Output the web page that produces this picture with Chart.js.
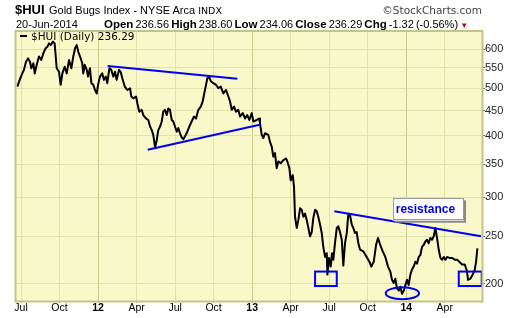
<!DOCTYPE html>
<html>
<head>
<meta charset="utf-8">
<script src="https://cdn.jsdelivr.net/npm/chart.js@4.4.1/dist/chart.umd.min.js"></script>
<style>
  body { margin: 0; background: #fff; }
  #wrap { position: relative; width: 520px; height: 318px; font-family: "Liberation Sans", Arial, sans-serif; color: #000; }
  #hui { position: absolute; left: 0; top: 0; }
  .t { position: absolute; white-space: nowrap; line-height: 1; }
  .b { font-weight: bold; }
  .dv { font-family: "DejaVu Sans", Verdana, sans-serif; }
  #quote { font-size: 11px; word-spacing: -1px; }
  #quote .b { font-size: 11.5px; }
</style>
</head>
<body>
<div id="wrap">
  <canvas id="hui" width="520" height="318"></canvas>
  <div class="t b" style="left:15px; top:3px; font-size:13px;">$HUI</div>
  <div class="t" style="left:49px; top:5px; font-size:11px;">Gold Bugs Index - NYSE Arca <span class="dv" style="font-size:9.5px;">INDX</span></div>
  <div class="t dv" style="right:38px; top:5px; font-size:10.5px; color:#444;">©StockCharts.com</div>
  <div class="t" style="left:16px; top:19px; font-size:11px;">20-Jun-2014</div>
  <div class="t" id="quote" style="left:104px; top:19px;"><span class="b">Open</span> 236.56 <span class="b">High</span> 238.60 <span class="b">Low</span> 234.06 <span class="b">Close</span> 236.29 <span class="b">Chg</span> -1.32 (-0.56%) <span style="color:#c00; font-size:8px;">&#9660;</span></div>
  <div class="t" style="left:20px; top:35px; width:7px; height:2px; background:#000;"></div>
  <div class="t dv" style="left:31px; top:31px; font-size:10.5px;">$HUI (Daily) 236.29</div>
</div>
<script>
// x values are months counted from Jul 2011
const tickMonths = [0, 3, 6, 9, 12, 15, 18, 21, 24, 27, 30, 33];
const tickLabels = ["Jul", "Oct", "12", "Apr", "Jul", "Oct", "13", "Apr", "Jul", "Oct", "14", "Apr"];
const yearMonths = [6, 18, 30];
const priceTicks = [200, 250, 300, 350, 400, 450, 500, 550, 600];

const months = [
  -0.29, -0.08, 0.10, 0.23, 0.39, 0.55, 0.70, 0.80, 0.96, 1.07, 1.22, 1.40, 1.58, 1.74, 1.92, 2.05,
  2.18, 2.31, 2.49, 2.62, 2.78, 2.96, 3.09, 3.22, 3.40, 3.56, 3.74, 3.92, 4.07, 4.21, 4.34, 4.46,
  4.60, 4.77, 4.85, 4.96, 5.12, 5.22, 5.37, 5.48, 5.63, 5.76, 5.90, 6.00, 6.15, 6.33, 6.46, 6.60,
  6.72, 6.88, 7.03, 7.19, 7.32, 7.45, 7.63, 7.76, 7.89, 8.08, 8.28, 8.49, 8.59, 8.75,
  8.96, 9.06, 9.21, 9.40, 9.52, 9.74, 9.91, 10.05, 10.18, 10.30, 10.44, 10.57, 10.69, 10.83, 10.96,
  11.08, 11.21, 11.35, 11.47, 11.60, 11.74, 11.86, 11.99, 12.13, 12.25, 12.38, 12.52, 12.64, 12.77,
  12.95, 13.11, 13.29, 13.47, 13.63, 13.81, 14.00, 14.15, 14.25, 14.41, 14.51, 14.67, 14.80, 14.98,
  15.19, 15.37, 15.55, 15.76, 15.97, 16.15, 16.28, 16.41, 16.59, 16.74, 16.92, 17.06, 17.27, 17.45,
  17.62, 17.78, 17.97, 18.09, 18.36, 18.56,
  18.61, 18.75, 18.87, 19.00, 19.26, 19.39, 19.53, 19.65, 19.78, 19.91, 20.04, 20.23, 20.43, 20.64,
  20.74, 20.90, 21.00, 21.16, 21.26, 21.34, 21.47, 21.60, 21.73, 21.86, 21.99, 22.12, 22.25, 22.38,
  22.51, 22.64, 22.76, 22.90, 23.03, 23.15, 23.29, 23.42, 23.54, 23.68, 23.81, 23.86, 23.99, 24.12,
  24.22, 24.32, 24.45, 24.59, 24.71, 24.84, 24.98, 25.10, 25.23, 25.37, 25.49, 25.62, 25.76, 25.88,
  26.01, 26.14, 26.27, 26.40, 26.66, 26.92, 27.13,
  27.28, 27.47, 27.65, 27.80, 27.98, 28.17, 28.37, 28.58, 28.76, 28.89, 29.03, 29.15, 29.28, 29.42,
  29.54, 29.67, 29.81, 29.93, 30.06, 30.19, 30.32, 30.45, 30.58, 30.71, 30.84, 30.97, 31.10, 31.23,
  31.36, 31.49, 31.62, 31.75, 31.88, 32.01, 32.14, 32.27, 32.40, 32.53, 32.66, 32.79, 32.92, 33.05,
  33.18, 33.36, 33.57, 33.78, 33.96, 34.14, 34.35, 34.56, 34.74, 34.81, 34.99, 35.18, 35.34, 35.44, 35.54
];
const hui = [
  504, 522, 536, 545, 566, 575, 566, 549, 562, 536, 558, 580, 571, 589, 603, 607,
  617, 612, 622, 617, 549, 540, 508, 536, 553, 536, 571, 549, 580, 603, 612, 593,
  580, 562, 536, 558, 545, 528, 549, 512, 508, 496, 488, 508, 528, 536, 520, 528,
  512, 549, 545, 528, 540, 520, 545, 540, 524, 504, 496, 500, 481, 477,
  481, 466, 448, 452, 441, 434, 431, 418, 411, 402, 379, 392, 411, 418, 428,
  448, 452, 441, 455, 452, 431, 428, 418, 408, 415, 405, 397, 394, 399,
  408, 418, 428, 438, 434, 452, 459, 470, 485, 508, 524, 526, 516, 512,
  508, 500, 504, 488, 496, 481, 470, 452, 459, 448, 452, 438, 445, 434,
  441, 431, 445, 428, 431, 434,
  424, 402, 396, 405, 402, 389, 380, 363, 369, 344, 355, 352, 357, 360,
  355, 344, 325, 333, 315, 274, 260, 270, 285, 283, 274, 278, 270, 260,
  250, 255, 272, 283, 281, 274, 264, 254, 238, 227, 231, 209, 226, 217,
  231, 224, 242, 260, 262, 255, 246, 218, 242, 254, 278, 276, 264, 260,
  254, 255, 242, 235, 233, 227, 222,
  217, 222, 240, 248, 240, 233, 227, 217, 212, 204, 201, 205, 196, 194,
  197.5, 191, 194, 199, 204, 199, 209, 214, 217, 222, 220, 227, 229, 238,
  240, 244, 246, 242, 248, 246, 250, 260, 248, 235, 226, 224, 227, 224,
  227, 226, 226, 224, 224, 222, 219, 219, 212, 204, 205, 209, 214, 222, 236.29
];

// hand-drawn annotations, in [month, price]
const wedgeTop = [[6.75, 555], [16.85, 523]];
const wedgeBottom = [[9.87, 375], [18.67, 422]];
const resistanceLine = [[24.40, 281], [35.83, 250]];
// [monthFrom, monthTo, priceLow, priceHigh]
const supportBoxes = [[22.90, 24.59, 198.1, 212], [34.09, 35.88, 198.1, 212]];
const bottomOval = [28.40, 31.00, 186.2, 196.9];
const labelBox = [28.95, 34.50, 269, 298.7];
const labelText = "resistance";

const ANNOT_BLUE = "#0000f0";

function toPoints(pairs) {
  return pairs.map(p => ({ x: p[0], y: p[1] }));
}

const extras = {
  id: "extras",
  beforeDraw(chart) {
    const { ctx, chartArea: a } = chart;
    ctx.save();
    ctx.fillStyle = "#f8f8c8";
    ctx.fillRect(a.left, a.top, a.right - a.left, a.bottom - a.top);
    ctx.restore();
  },
  afterDatasetsDraw(chart) {
    const { ctx, scales: { x, y } } = chart;
    ctx.save();
    ctx.strokeStyle = ANNOT_BLUE;
    ctx.lineWidth = 2;
    supportBoxes.forEach(b => {
      const l = x.getPixelForValue(b[0]), r = x.getPixelForValue(b[1]);
      const t = y.getPixelForValue(b[3]), bt = y.getPixelForValue(b[2]);
      ctx.strokeRect(l, t, r - l, bt - t);
    });

    const ol = x.getPixelForValue(bottomOval[0]), or = x.getPixelForValue(bottomOval[1]);
    const ob = y.getPixelForValue(bottomOval[2]), ot = y.getPixelForValue(bottomOval[3]);
    ctx.beginPath();
    ctx.ellipse((ol + or) / 2, (ot + ob) / 2, (or - ol) / 2, (ob - ot) / 2, 0, 0, Math.PI * 2);
    ctx.stroke();

    // label box
    const ll = x.getPixelForValue(labelBox[0]), lr = x.getPixelForValue(labelBox[1]);
    const lt = y.getPixelForValue(labelBox[3]), lb = y.getPixelForValue(labelBox[2]);
    ctx.fillStyle = "#888";
    ctx.fillRect(ll + 2, lt + 2, lr - ll, lb - lt);
    ctx.fillStyle = "#fff";
    ctx.fillRect(ll, lt, lr - ll, lb - lt);
    ctx.strokeStyle = "#999";
    ctx.lineWidth = 1;
    ctx.strokeRect(Math.round(ll) + 0.5, Math.round(lt) + 0.5, Math.round(lr - ll) - 1, Math.round(lb - lt) - 1);
    ctx.fillStyle = ANNOT_BLUE;
    ctx.font = "bold 12px 'Liberation Sans', Arial, sans-serif";
    ctx.textBaseline = "alphabetic";
    ctx.fillText(labelText, ll + 3, lt + 15);
    ctx.restore();
  },
  afterDraw(chart) {
    const { ctx, chartArea: a } = chart;
    ctx.save();
    ctx.strokeStyle = "#c2c48c";
    ctx.lineWidth = 2;
    ctx.strokeRect(a.left - 0.5, a.top, a.right - a.left + 1, a.bottom - a.top + 0.5);
    ctx.restore();
  }
};

new Chart(document.getElementById("hui"), {
  type: "line",
  data: {
    datasets: [
      { data: toPoints(wedgeTop), borderColor: ANNOT_BLUE, borderWidth: 2, pointRadius: 0, order: 0 },
      { data: toPoints(wedgeBottom), borderColor: ANNOT_BLUE, borderWidth: 2, pointRadius: 0, order: 0 },
      { data: toPoints(resistanceLine), borderColor: ANNOT_BLUE, borderWidth: 2, pointRadius: 0, order: 0 },
      {
        label: "$HUI (Daily)",
        data: months.map((m, i) => ({ x: m, y: hui[i] })),
        borderColor: "#000",
        borderWidth: 2,
        borderJoinStyle: "round",
        pointRadius: 0,
        tension: 0,
        order: 1
      }
    ]
  },
  options: {
    responsive: false,
    animation: false,
    layout: { padding: { left: 16, top: 31, right: 0, bottom: 0 } },
    plugins: { legend: { display: false }, tooltip: { enabled: false } },
    scales: {
      x: {
        type: "linear",
        min: -0.39,
        max: 35.9,
        afterBuildTicks: s => { s.ticks = tickMonths.map(v => ({ value: v })); },
        afterFit: s => { s.height = 17; },
        border: { display: false },
        grid: {
          color: c => yearMonths.includes(c.tick && c.tick.value) ? "#c8cb90" : "#e0e2ac",
          tickColor: "#aaa",
          tickLength: 2
        },
        ticks: {
          autoSkip: false,
          maxRotation: 0,
          padding: -1,
          color: "#000",
          font: c => {
            const year = yearMonths.includes(c.tick && c.tick.value);
            return { family: "'Liberation Sans', Arial, sans-serif", size: year ? 10.5 : 10.5, weight: year ? "bold" : "normal" };
          },
          callback: v => tickLabels[tickMonths.indexOf(v)]
        }
      },
      y: {
        type: "logarithmic",
        position: "right",
        min: 184.7,
        max: 653.7,
        afterBuildTicks: s => { s.ticks = priceTicks.map(v => ({ value: v })); },
        afterFit: s => { s.width = 38; },
        border: { display: false },
        grid: { color: "#e0e2ac", tickColor: "#666", tickLength: 3 },
        ticks: {
          padding: 0,
          color: "#222",
          font: { family: "'Liberation Sans', Arial, sans-serif", size: 11 },
          callback: v => String(v)
        }
      }
    }
  },
  plugins: [extras]
});
</script>
</body>
</html>
